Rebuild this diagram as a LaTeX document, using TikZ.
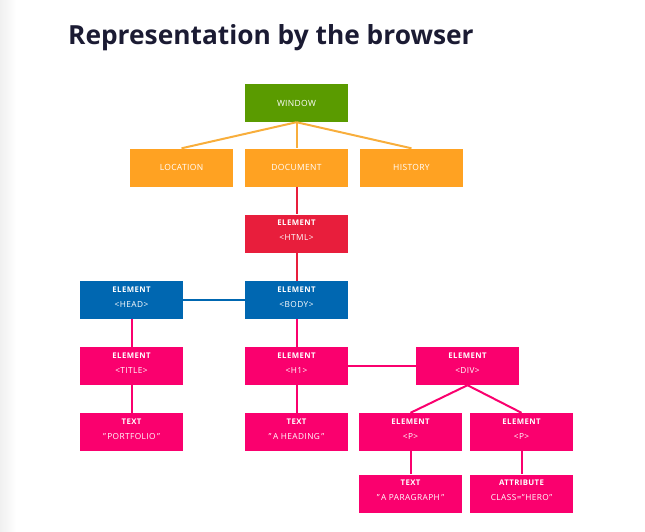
\documentclass[tikz,border=0pt]{standalone}
\usepackage{fontspec}
\setmainfont{Open Sans}
\definecolor{wingreen}{HTML}{5A9B00}
\definecolor{bomorange}{HTML}{FFA222}
\definecolor{bomline}{HTML}{F8AE3C}
\definecolor{htmlred}{HTML}{E81E3C}
\definecolor{headblue}{HTML}{0067B1}
\definecolor{nodepink}{HTML}{FA006E}
\definecolor{titleink}{HTML}{1B1B33}
\newcommand\tagfont{\fontsize{8.3}{15}\selectfont\addfontfeature{LetterSpace=5}}
\newcommand\kindfont{\fontsize{7.8}{15}\selectfont\bfseries}
\tikzset{
  boxnode/.style={minimum width=103pt,minimum height=38pt,inner sep=0pt,text=white},
  onenode/.style={boxnode,font=\fontsize{8.5}{10}\selectfont\addfontfeature{LetterSpace=4}},
  domtext/.style={text=white,align=center,inner sep=0pt,font=\tagfont,yshift=3pt},
  domnode/.style={boxnode,label={[domtext]center:#1}},
}
\begin{document}
\begin{tikzpicture}[x=1pt,y=-1pt,line join=round]
    \useasboundingbox (0,0) rectangle (645,531);
    \shade[left color=black!6,right color=white] (0,0) rectangle (16,531);
    \node[anchor=base west,text=titleink,inner sep=0pt,
      font=\fontsize{26.3}{30}\selectfont\bfseries] (heading) at (68,44)
      {Representation by the browser};
    % browser object model
    \node[onenode,fill=wingreen]   (window)   at (296.5,103)   {WINDOW};
    \node[onenode,fill=bomorange]  (location) at (181.5,167.5) {LOCATION};
    \node[onenode,fill=bomorange]  (document) at (296.5,167.5) {DOCUMENT};
    \node[onenode,fill=bomorange]  (history)  at (411.5,167.5) {HISTORY};
    % document object model
    \node[domnode={{\kindfont ELEMENT}\\<HTML>},fill=htmlred]  (html)  at (296.5,233.5) {};
    \node[domnode={{\kindfont ELEMENT}\\<HEAD>},fill=headblue] (head)  at (131.5,300)   {};
    \node[domnode={{\kindfont ELEMENT}\\<BODY>},fill=headblue] (body)  at (296.5,300)   {};
    \node[domnode={{\kindfont ELEMENT}\\<TITLE>},fill=nodepink] (title) at (131.5,366)  {};
    \node[domnode={{\kindfont ELEMENT}\\<H1>},fill=nodepink]   (hone)  at (296.5,366)   {};
    \node[domnode={{\kindfont ELEMENT}\\<DIV>},fill=nodepink]  (div)   at (467.5,366)   {};
    \node[domnode={{\kindfont TEXT}\\"\,PORTFOLIO\,"},fill=nodepink] (portfolio) at (131.5,432) {};
    \node[domnode={{\kindfont TEXT}\\"\,A HEADING\,"},fill=nodepink] (aheading)  at (296.5,432) {};
    \node[domnode={{\kindfont ELEMENT}\\<P>},fill=nodepink]    (pleft)  at (410.5,432)   {};
    \node[domnode={{\kindfont ELEMENT}\\<P>},fill=nodepink]    (pright) at (521.5,432)   {};
    \node[domnode={{\kindfont TEXT}\\"\,A PARAGRAPH\,"},fill=nodepink] (para) at (410.5,493.5) {};
    \node[domnode={{\kindfont ATTRIBUTE}\\CLASS="HERO"},fill=nodepink] (hero) at (521.5,493.5) {};
    \begin{scope}[line width=2pt]
      \draw[bomline](window.south)--(location.north);
      \draw[bomline](window.south)--(document.north);
      \draw[bomline](window.south)--(history.north);
      \draw[htmlred](document.south)--(html.north);
      \draw[htmlred](html.south)--(body.north);
      \draw[headblue](head.east)--(body.west);
      \draw[nodepink](head.south)--(title.north);
      \draw[nodepink](title.south)--(portfolio.north);
      \draw[nodepink](body.south)--(hone.north);
      \draw[nodepink](hone.south)--(aheading.north);
      \draw[nodepink](hone.east)--(div.west);
      \draw[nodepink](div.south)--(pleft.north);
      \draw[nodepink](div.south)--(pright.north);
      \draw[nodepink](pleft.south)--(para.north);
      \draw[nodepink](pright.south)--(hero.north);
    \end{scope}
  \end{tikzpicture}
\end{document}
